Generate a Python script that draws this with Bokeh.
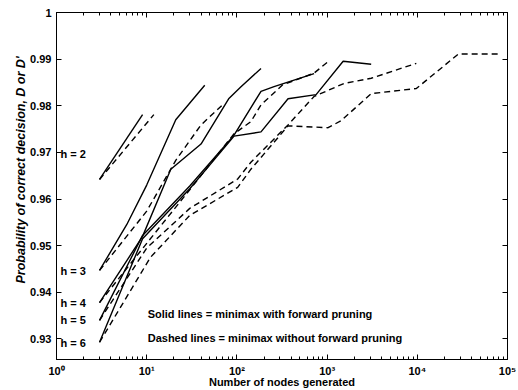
from bokeh.plotting import figure
from bokeh.models import FixedTicker, CustomJSTickFormatter, LogAxis, LinearAxis, Label, Title
from bokeh.embed import file_html
from bokeh.resources import INLINE

# ---- data ----
x_tick_values = [1, 10, 100, 1000, 10000, 100000]
x_tick_labels = ["10\u2070", "10\u00b9", "10\u00b2", "10\u00b3", "10\u2074", "10\u2075"]
x_minor_ticks = [2, 3, 4, 5, 6, 7, 8, 9,
                 20, 30, 40, 50, 60, 70, 80, 90,
                 200, 300, 400, 500, 600, 700, 800, 900,
                 2000, 3000, 4000, 5000, 6000, 7000, 8000, 9000,
                 20000, 30000, 40000, 50000, 60000, 70000, 80000, 90000]
y_tick_values = [0.93, 0.94, 0.95, 0.96, 0.97, 0.98, 0.99, 1.0]
y_tick_labels = ["0.93", "0.94", "0.95", "0.96", "0.97", "0.98", "0.99", "1"]

h2_solid_x = [3, 9]
h2_solid_y = [0.9642, 0.9781]
h2_dash_x = [3, 12]
h2_dash_y = [0.9642, 0.9781]

h3_solid_x = [3, 6, 10, 21, 44]
h3_solid_y = [0.9447, 0.9545, 0.963, 0.977, 0.9844]
h3_dash_x = [3, 10, 21, 40, 72]
h3_dash_y = [0.9447, 0.9574, 0.9683, 0.9759, 0.9805]

h4_solid_x = [3, 9, 18.5, 40, 81, 111, 185]
h4_solid_y = [0.9378, 0.952, 0.9664, 0.9718, 0.9815, 0.9841, 0.988]
h4_dash_x = [3, 10, 30, 93, 143, 185, 322, 717, 1061]
h4_dash_y = [0.9378, 0.9505, 0.962, 0.974, 0.9766, 0.9802, 0.9845, 0.987, 0.9897]

h5_solid_x = [3, 9, 30, 93, 185, 258, 717]
h5_solid_y = [0.934, 0.9522, 0.9628, 0.9737, 0.9831, 0.9841, 0.9869]
h5_dash_x = [3, 10, 30, 102, 143, 369, 717, 1545, 3080, 9750]
h5_dash_y = [0.934, 0.9495, 0.958, 0.9643, 0.9679, 0.9759, 0.982, 0.9848, 0.9859, 0.9891]

h6_solid_x = [3, 9, 30, 93, 185, 369, 755, 1506, 3080]
h6_solid_y = [0.9293, 0.9515, 0.9622, 0.9735, 0.9744, 0.9815, 0.9824, 0.98955, 0.9889]
h6_dash_x = [3, 11, 30, 102, 143, 369, 1025, 1430, 3080, 9750, 28560, 85700]
h6_dash_y = [0.9293, 0.9475, 0.9565, 0.9625, 0.9664, 0.9757, 0.9753, 0.9768, 0.9826, 0.9837, 0.9911, 0.9911]

solid_series = [(h2_solid_x, h2_solid_y), (h3_solid_x, h3_solid_y), (h4_solid_x, h4_solid_y),
                (h5_solid_x, h5_solid_y), (h6_solid_x, h6_solid_y)]
dash_series = [(h2_dash_x, h2_dash_y), (h3_dash_x, h3_dash_y), (h4_dash_x, h4_dash_y),
               (h5_dash_x, h5_dash_y), (h6_dash_x, h6_dash_y)]

FONT = "Liberation Sans"

p = figure(width=518, height=390, x_axis_type="log", x_range=(1, 1e5), y_range=(0.9256, 1.0),
           output_backend="svg", toolbar_location=None,
           min_border_left=56, min_border_top=12, min_border_right=11, min_border_bottom=0)
p.background_fill_color = "white"
p.border_fill_color = "white"
p.outline_line_color = "black"
p.outline_line_width = 1
p.xgrid.grid_line_color = None
p.ygrid.grid_line_color = None

xfmt = CustomJSTickFormatter(args=dict(v=x_tick_values, l=x_tick_labels), code="""
let best = 0, d = Infinity;
for (let i = 0; i < v.length; i++) {
  const e = Math.abs(Math.log10(tick) - Math.log10(v[i]));
  if (e < d) { d = e; best = i; }
}
return l[best];
""")
yfmt = CustomJSTickFormatter(args=dict(v=y_tick_values, l=y_tick_labels), code="""
let best = 0, d = Infinity;
for (let i = 0; i < v.length; i++) {
  const e = Math.abs(tick - v[i]);
  if (e < d) { d = e; best = i; }
}
return l[best];
""")
empty = CustomJSTickFormatter(code="return '';")


def style_axis(ax, minor=True):
    ax.axis_line_color = "black"
    ax.major_tick_in = 5
    ax.major_tick_out = 0
    ax.major_tick_line_color = "black"
    if minor:
        ax.minor_tick_in = 3
        ax.minor_tick_out = 0
        ax.minor_tick_line_color = "black"
    else:
        ax.minor_tick_line_color = None
    ax.major_label_text_font = FONT
    ax.major_label_text_font_style = "bold"
    ax.major_label_text_font_size = "11px"
    ax.major_label_text_color = "black"


xt = FixedTicker(ticks=x_tick_values, minor_ticks=x_minor_ticks)
yt = FixedTicker(ticks=y_tick_values)

xa = p.xaxis[0]
xa.ticker = xt
xa.formatter = xfmt
style_axis(xa)
xa.major_label_standoff = 5
xa.axis_label = "Number of nodes generated"
xa.axis_label_text_font = FONT
xa.axis_label_text_font_style = "bold"
xa.axis_label_text_font_size = "11px"
xa.axis_label_text_color = "black"
xa.axis_label_standoff = -4

ya = p.yaxis[0]
ya.ticker = yt
ya.formatter = yfmt
style_axis(ya, minor=False)
ya.major_label_standoff = 5

top = LogAxis(ticker=xt, formatter=empty)
style_axis(top)
top.major_label_standoff = 0
top.major_label_text_font_size = "0px"
p.add_layout(top, "above")

right = LinearAxis(ticker=yt, formatter=empty)
style_axis(right, minor=False)
right.major_label_standoff = 0
right.major_label_text_font_size = "0px"
p.add_layout(right, "right")

# y-axis title, as a side title shifted towards the top like the reference
p.add_layout(Title(text="Probability of correct decision, D or D'", align="left", offset=76,
                   text_font=FONT, text_font_style="bold italic", text_font_size="12.5px",
                   text_color="black", standoff=0), "left")

for xs, ys in solid_series:
    p.line(xs, ys, line_color="black", line_width=1.4)
for xs, ys in dash_series:
    p.line(xs, ys, line_color="black", line_width=1.4, line_dash="6 4")

for txt, yy in [("h = 2", 0.9696), ("h = 3", 0.9445), ("h = 4", 0.9377), ("h = 5", 0.934), ("h = 6", 0.9292)]:
    p.add_layout(Label(x=1.107, y=yy, text=txt, text_font=FONT, text_font_style="bold", text_color="black",
                       text_font_size="11px", text_baseline="middle", text_align="left"))

p.add_layout(Label(x=10.26, y=0.9354, text="Solid lines = minimax with forward pruning", text_font=FONT,
                   text_font_style="bold", text_font_size="11px", text_color="black", text_baseline="middle"))
p.add_layout(Label(x=10.26, y=0.9302, text="Dashed lines = minimax without forward pruning", text_font=FONT,
                   text_font_style="bold", text_font_size="11px", text_color="black", text_baseline="middle"))

open("out.html", "w").write(file_html(p, INLINE))
